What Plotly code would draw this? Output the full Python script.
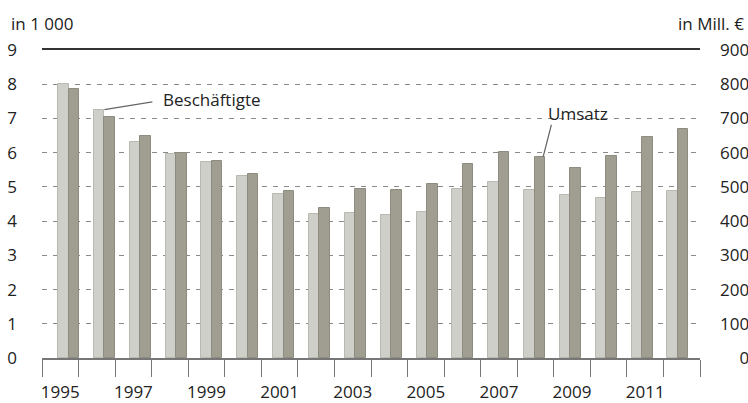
import plotly.graph_objects as go

# Daten
jahre = list(range(1995, 2013))
beschaeftigte = [8.00, 7.26, 6.32, 5.97, 5.72, 5.32, 4.79, 4.20, 4.23, 4.18,
                 4.26, 4.94, 5.15, 4.91, 4.75, 4.69, 4.84, 4.88]  # in 1 000
umsatz = [786, 703, 650, 600, 577, 539, 487, 437, 493, 490,
          509, 567, 603, 588, 554, 589, 645, 669]  # in Mill. €
jahr_ticks = [j for j in jahre if j % 2 == 1]
links_ticks = list(range(0, 10))
rechts_ticks = list(range(0, 1000, 100))

FONT = "Open Sans"
TXT = "#222222"
HELL = "#cfcfc9"
DUNKEL = "#a09e91"
BW = 0.293

# rechte Achse rechtsbuendig: mit Ziffernleerzeichen auffuellen
rechts_text = [f"{v:>3}".replace(" ", "\u2007") for v in rechts_ticks]

fig = go.Figure()

fig.add_trace(go.Bar(
    x=jahre, y=beschaeftigte, name="Beschäftigte",
    xaxis="x", yaxis="y",
    offset=-BW, width=BW,
    marker=dict(color=HELL, line=dict(color="#b9b9b2", width=1)),
    showlegend=False
))
fig.add_trace(go.Bar(
    x=jahre, y=umsatz, name="Umsatz",
    xaxis="x", yaxis="y2",
    offset=0, width=BW,
    marker=dict(color=DUNKEL, line=dict(color="#8e8c80", width=1)),
    showlegend=False
))
# unsichtbare Spur fuer die Jahresachse
fig.add_trace(go.Scatter(
    x=jahre, y=beschaeftigte,
    xaxis="x2", yaxis="y", mode="markers",
    marker=dict(opacity=0), hoverinfo="skip", showlegend=False
))

fig.update_layout(
    width=748, height=403,
    margin=dict(l=42, r=48, t=50, b=45, autoexpand=False),
    paper_bgcolor="white", plot_bgcolor="white",
    font=dict(family=FONT, size=17, color=TXT),
    xaxis=dict(
        range=[1994.26, 2012.615],
        side="top", showline=True, linecolor="#333333", linewidth=1.5,
        showticklabels=False, ticks="", showgrid=False, zeroline=False,
        automargin=False
    ),
    xaxis2=dict(
        overlaying="x", anchor="y", side="bottom",
        range=[jahre[0] - 0.5, jahre[-1] + 0.5],
        tickmode="array", tickvals=jahr_ticks, ticktext=[str(j) for j in jahr_ticks],
        ticks="", showline=True, linecolor="#777777", linewidth=1.5,
        showgrid=False, zeroline=False, ticklabelstandoff=18, tickangle=0,
        minor=dict(ticks="outside", ticklen=17, tickwidth=1, tickcolor="#777777",
                   tickmode="linear", tick0=jahre[0] - 0.5, dtick=1, showgrid=False),
        automargin=False
    ),
    yaxis=dict(
        range=[0, 9], tickvals=links_ticks,
        showgrid=True, gridcolor="#8a8a8a", gridwidth=1, griddash="5px,6px",
        zeroline=False, ticks="", ticklabelstandoff=24, automargin=False
    ),
    yaxis2=dict(
        overlaying="y", anchor="x", side="right",
        range=[0, 900], tickvals=rechts_ticks, ticktext=rechts_text,
        showgrid=False, zeroline=False, ticks="", showline=False,
        ticklabelstandoff=19, automargin=False
    ),
    bargap=0
)

PW = 658  # Breite der Zeichenflaeche in Pixel
PH = 308

fig.add_annotation(text="in 1 000", xref="paper", yref="paper",
                   x=(9 - 42) / PW, y=(358 - 24) / PH,
                   xanchor="left", yanchor="middle", showarrow=False)
fig.add_annotation(text="in Mill. €", xref="paper", yref="paper",
                   x=(746 - 42) / PW, y=(358 - 24) / PH,
                   xanchor="right", yanchor="middle", showarrow=False)

# Beschriftungen mit Linien
fig.add_annotation(text=" ", x=1996, y=beschaeftigte[1], xref="x", yref="y",
                   showarrow=True, arrowhead=0, arrowwidth=1.2, arrowcolor="#666666",
                   ax=50, ay=-8, font=dict(size=2))
fig.add_annotation(text="Beschäftigte", xref="paper", yref="paper",
                   x=(161 - 42) / PW, y=(358 - 99) / PH,
                   xanchor="left", yanchor="middle", showarrow=False)
fig.add_annotation(text=" ", x=2008.24, y=umsatz[13], xref="x", yref="y2",
                   showarrow=True, arrowhead=0, arrowwidth=1.2, arrowcolor="#666666",
                   ax=9, ay=-35, font=dict(size=2))
fig.add_annotation(text="Umsatz", xref="paper", yref="paper",
                   x=(546 - 42) / PW, y=(358 - 113) / PH,
                   xanchor="left", yanchor="middle", showarrow=False)

# Seitenrand des Browsers entfernen, damit die Abbildung bei (0, 0) beginnt
fig.write_html("out.html",
               config={"displayModeBar": False},
               post_script="document.body.style.margin='0';"
                           "document.body.style.overflow='hidden';")
